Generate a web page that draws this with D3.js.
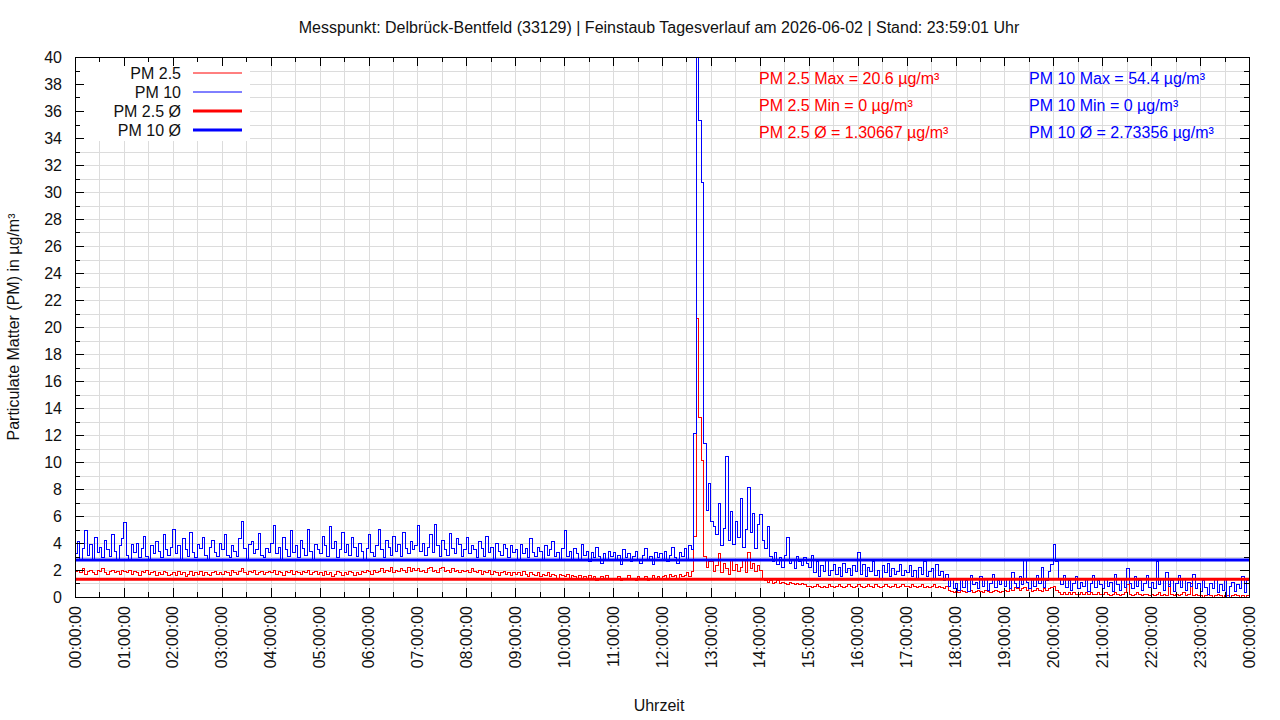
<!DOCTYPE html>
<html>
<head>
<meta charset="utf-8">
<script src="https://cdn.jsdelivr.net/npm/d3@7"></script>
<style>
  body { margin: 0; background: #fff; }
  text { font-family: "Liberation Sans", Arial, sans-serif; }
</style>
</head>
<body>
<div id="container"></div>
<script>
// one reading every 3 minutes, 20 readings per hour line
const stepMin = 3;
const pm10 = [
  3.2,4.1,2.7,3.6,4.9,3.1,3.9,2.8,4.4,3.3,3.7,2.9,4.2,3.5,3.0,4.6,3.4,2.8,3.8,4.3,
  5.5,3.1,2.8,3.9,3.3,4.0,2.9,3.6,4.5,3.0,2.7,3.8,3.2,4.1,3.4,2.9,4.6,3.5,3.1,3.7,
  5.0,3.2,3.8,2.8,4.3,3.5,3.0,4.8,3.3,2.9,3.9,3.6,4.4,3.1,2.8,3.7,4.2,3.3,3.0,4.0,
  3.5,4.6,3.1,2.9,3.8,3.4,3.0,4.3,5.6,3.6,2.8,3.9,4.1,3.2,3.5,4.7,3.1,2.9,3.6,3.3,
  4.0,5.3,3.2,3.7,2.8,4.4,3.5,3.0,4.9,3.3,3.8,2.9,4.2,3.6,3.1,5.0,3.4,2.8,3.9,3.5,
  3.2,4.5,3.8,3.0,5.2,3.6,4.1,2.9,3.5,4.8,3.3,3.9,3.1,4.4,3.7,3.0,4.0,3.4,2.8,3.6,
  4.6,3.3,3.0,3.8,5.0,3.5,2.9,4.2,3.7,3.1,4.5,3.4,3.9,3.0,4.8,3.6,3.2,4.1,3.5,3.8,
  5.3,3.4,4.0,3.1,3.7,4.6,3.3,5.4,3.8,3.0,4.2,3.5,3.1,4.7,3.6,3.2,4.3,3.9,3.0,3.5,
  4.4,3.2,3.8,3.5,2.9,4.1,3.6,3.0,4.5,3.3,3.7,2.8,4.0,3.4,3.1,3.9,3.6,2.9,3.8,3.3,
  3.5,2.8,3.9,3.2,3.6,2.9,4.3,3.3,3.0,3.7,3.4,2.7,3.8,3.1,3.5,4.1,3.0,3.3,2.8,3.6,
  4.9,3.0,3.4,2.8,3.6,3.2,2.7,3.9,3.1,3.4,2.6,3.3,2.9,3.7,3.0,2.5,3.2,2.8,3.4,3.0,
  3.3,2.7,3.1,2.4,3.5,2.9,3.2,2.6,3.0,3.4,2.8,2.5,3.1,3.6,2.7,3.0,2.4,3.3,2.9,3.2,
  2.8,3.4,2.6,3.1,3.7,2.9,2.5,3.3,3.0,3.6,2.7,3.8,3.5,12.1,54.4,35.3,30.7,11.4,6.4,8.4,
  5.6,5.2,4.6,6.9,3.8,5.1,10.4,4.2,6.3,3.9,5.6,4.4,7.3,3.7,5.0,8.1,4.8,6.2,3.6,5.4,
  6.1,4.2,3.6,5.2,3.0,2.6,3.3,2.4,2.9,2.2,3.1,4.4,2.5,2.8,2.1,3.0,2.6,2.3,2.9,2.5,
  2.2,3.1,1.8,2.6,1.5,2.3,1.9,2.7,1.6,2.0,2.4,1.7,2.2,1.5,2.5,1.8,2.1,1.6,2.3,1.9,
  3.3,1.7,2.4,1.5,2.2,1.9,2.6,1.6,2.0,1.4,2.3,1.8,2.5,1.5,2.1,1.7,1.9,2.4,1.6,2.0,
  1.8,2.3,1.5,2.0,1.4,2.2,1.7,2.6,1.5,1.9,2.1,1.3,2.4,1.6,1.9,1.2,1.7,0.8,1.3,0.6,
  1.0,0.5,1.4,0.7,1.2,0.4,1.6,0.9,1.1,0.6,1.5,0.8,1.3,0.5,1.0,1.7,0.7,1.2,0.9,1.4,
  0.8,1.3,0.6,1.8,1.0,0.7,1.5,0.9,2.8,1.1,0.6,1.4,0.8,1.6,1.0,2.2,0.7,1.2,1.9,2.4,
  3.9,2.6,1.4,0.9,1.6,0.7,1.2,0.5,1.0,1.5,0.6,1.1,0.8,1.3,0.4,1.0,1.6,0.7,1.2,0.9,
  0.6,1.4,0.8,1.1,0.4,1.7,0.9,0.5,1.3,0.7,2.1,1.0,0.6,1.5,0.8,1.2,0.5,1.0,1.6,0.7,
  1.1,0.6,2.6,0.9,1.4,0.5,1.8,0.8,1.2,0.4,1.0,1.6,0.7,1.3,0.5,1.1,0.8,1.7,0.6,1.0,
  0.4,1.2,0.7,0.2,1.0,0.6,1.4,0.3,0.9,0.5,1.3,0.0,0.8,1.1,0.4,0.9,0.6,1.5,0.3,1.2
];
const pm25 = [
  1.9,2.0,1.8,2.1,1.7,1.9,2.0,1.8,1.7,2.0,1.9,2.1,1.8,1.7,1.9,2.0,1.8,1.9,1.7,2.0,
  1.9,1.8,2.0,1.7,1.9,1.8,1.6,1.9,1.8,2.0,1.7,1.8,1.9,1.6,1.8,1.7,1.9,1.8,1.6,1.7,
  1.8,1.6,1.9,1.7,1.8,1.5,1.7,1.9,1.6,1.8,1.7,1.9,1.6,1.8,1.7,1.6,1.8,1.9,1.7,1.8,
  1.7,1.9,1.8,1.6,2.0,1.8,1.7,1.9,2.1,1.8,1.7,1.9,1.8,2.0,1.7,1.8,1.9,1.7,1.8,1.9,
  1.8,2.0,1.7,1.9,1.8,1.6,1.9,1.8,2.0,1.7,1.9,1.8,1.7,1.9,1.8,2.0,1.7,1.8,1.9,1.7,
  1.8,1.6,1.9,1.7,1.8,1.5,1.7,1.9,1.8,1.6,1.8,1.7,1.9,1.8,1.6,1.8,1.7,1.9,1.8,2.0,
  1.9,1.7,2.0,1.8,1.9,2.1,1.8,2.0,1.9,2.2,1.8,2.0,1.9,2.1,2.0,1.8,2.2,1.9,2.1,2.0,
  2.1,1.9,2.0,1.8,2.1,2.2,1.9,2.0,1.8,2.1,2.2,1.9,2.0,1.8,2.1,1.9,2.0,1.8,2.0,1.9,
  2.0,1.8,2.1,1.9,1.8,2.0,1.7,1.9,1.8,2.0,1.7,1.9,1.8,1.6,1.8,1.9,1.7,1.8,1.6,1.8,
  1.7,1.8,1.6,1.9,1.7,1.5,1.8,1.7,1.6,1.8,1.5,1.7,1.6,1.8,1.5,1.7,1.6,1.4,1.7,1.6,
  1.5,1.7,1.4,1.6,1.5,1.3,1.6,1.4,1.5,1.3,1.6,1.4,1.5,1.2,1.4,1.5,1.3,1.6,1.4,1.3,
  1.4,1.3,1.5,1.2,1.4,1.3,1.6,1.3,1.4,1.2,1.5,1.4,1.3,1.5,1.2,1.4,1.6,1.3,1.5,1.4,
  1.5,1.6,1.4,1.7,1.5,1.6,1.4,1.7,1.5,1.6,1.8,1.5,1.9,4.5,20.6,13.3,10.1,3.0,2.2,2.6,
  2.6,1.9,2.3,3.2,1.8,2.5,2.1,1.7,2.8,2.0,2.4,1.9,2.2,2.7,1.8,3.3,2.1,2.5,1.9,2.3,
  2.0,1.4,1.2,1.1,1.2,1.0,1.1,1.2,1.0,1.1,1.0,0.9,1.1,1.0,0.9,1.0,0.9,1.0,0.9,0.8,
  0.8,0.7,0.8,0.9,0.8,0.7,0.8,0.7,0.9,0.8,0.7,0.8,0.9,0.8,0.7,0.8,0.9,0.8,0.7,0.8,
  0.9,0.8,0.7,0.8,0.9,0.8,0.7,0.9,0.8,0.7,0.8,0.9,0.8,0.7,0.8,0.9,0.7,0.8,0.9,0.8,
  0.8,0.7,0.9,0.8,0.7,0.8,0.9,0.7,0.8,0.7,0.8,0.9,0.7,0.8,0.7,0.6,0.8,0.5,0.4,0.3,
  0.4,0.3,0.5,0.4,0.3,0.4,0.5,0.3,0.4,0.5,0.4,0.3,0.5,0.4,0.3,0.4,0.5,0.4,0.3,0.4,
  0.5,0.4,0.6,0.5,0.7,0.6,0.5,0.6,0.7,0.5,0.6,0.4,0.5,0.6,0.5,0.4,0.6,0.5,0.6,0.7,
  0.8,0.5,0.3,0.2,0.3,0.2,0.3,0.2,0.3,0.2,0.2,0.3,0.2,0.3,0.2,0.3,0.2,0.2,0.3,0.2,
  0.2,0.3,0.2,0.1,0.2,0.3,0.2,0.1,0.2,0.3,0.9,0.2,0.1,0.2,0.3,0.2,0.1,0.2,0.2,0.1,
  0.2,0.1,0.2,0.3,0.1,0.2,0.1,0.9,0.2,0.1,0.2,0.1,0.2,0.3,0.1,0.2,1.0,0.1,0.2,0.1,
  0.1,0.0,0.1,0.2,0.1,0.0,0.1,0.2,0.1,0.0,0.1,0.1,0.0,0.1,0.2,0.1,0.0,0.1,0.0,0.1
];
const hourLabels = ["00:00:00","01:00:00","02:00:00","03:00:00","04:00:00","05:00:00",
  "06:00:00","07:00:00","08:00:00","09:00:00","10:00:00","11:00:00","12:00:00",
  "13:00:00","14:00:00","15:00:00","16:00:00","17:00:00","18:00:00","19:00:00",
  "20:00:00","21:00:00","22:00:00","23:00:00","00:00:00"];
const pm25Stats = {max: "20.6", min: "0", avg: 1.30667};
const pm10Stats = {max: "54.4", min: "0", avg: 2.73356};
const title = "Messpunkt: Delbrück-Bentfeld (33129) | Feinstaub Tagesverlauf am 2026-06-02 | Stand: 23:59:01 Uhr";

const width = 1280;
const height = 720;
const marginTop = 57;
const marginRight = 31;
const marginBottom = 123;
const marginLeft = 75;
const red = "#ff0000";
const blue = "#0000ff";

const x = d3.scaleLinear([0, 1440], [marginLeft, width - marginRight]);
const y = d3.scaleLinear([0, 40], [height - marginBottom, marginTop]);

const svg = d3.create("svg")
  .attr("width", width)
  .attr("height", height)
  .style("display", "block");

svg.append("rect").attr("width", width).attr("height", height).attr("fill", "#fff");

// grid every half hour / every 1 µg
const grid = svg.append("g").attr("stroke", "#dcdcdc").attr("stroke-width", 1);
grid.selectAll(".gx").data(d3.range(30, 1440, 30)).join("line")
  .attr("x1", d => Math.round(x(d)) + 0.5).attr("x2", d => Math.round(x(d)) + 0.5)
  .attr("y1", y(0)).attr("y2", y(40));
grid.selectAll(".gy").data(d3.range(1, 40)).join("line")
  .attr("y1", d => Math.round(y(d)) + 0.5).attr("y2", d => Math.round(y(d)) + 0.5)
  .attr("x1", x(0)).attr("x2", x(1440));

// legend box hides grid behind it
svg.append("rect")
  .attr("x", x(0) + 1).attr("y", y(40) + 1)
  .attr("width", 174).attr("height", 83)
  .attr("fill", "#fff");

svg.append("clipPath").attr("id", "plot")
  .append("rect").attr("x", x(0)).attr("y", y(40))
  .attr("width", x(1440) - x(0)).attr("height", y(0) - y(40));

const toPoints = arr => arr.map((v, i) => ({t: i * stepMin, v}));
const line = d3.line().x(d => x(d.t)).y(d => y(d.v)).curve(d3.curveStepAfter);

const plot = svg.append("g").attr("clip-path", "url(#plot)");
[[pm25, red], [pm10, blue]].forEach(([arr, col]) => {
  plot.append("path")
    .attr("fill", "none")
    .attr("stroke", col)
    .attr("stroke-width", 1)
    .attr("shape-rendering", "crispEdges")
    .attr("d", line(toPoints(arr)) + `H${x(arr.length * stepMin)}`);
});
[[pm25Stats.avg, red], [pm10Stats.avg, blue]].forEach(([v, col]) => {
  plot.append("line")
    .attr("x1", x(0)).attr("x2", x(1440))
    .attr("y1", y(v)).attr("y2", y(v))
    .attr("stroke", col).attr("stroke-width", 3);
});

// frame and inward ticks on all four sides
const ax = svg.append("g").attr("stroke", "#000").attr("stroke-width", 1);
const xTicks = d3.range(0, 1441, 30);
ax.selectAll(".tb").data(xTicks).join("line")
  .attr("x1", d => Math.round(x(d)) + 0.5).attr("x2", d => Math.round(x(d)) + 0.5)
  .attr("y1", y(0)).attr("y2", d => y(0) - (d % 60 === 0 ? 9 : 5));
ax.selectAll(".tt").data(xTicks).join("line")
  .attr("x1", d => Math.round(x(d)) + 0.5).attr("x2", d => Math.round(x(d)) + 0.5)
  .attr("y1", y(40)).attr("y2", d => y(40) + (d % 60 === 0 ? 9 : 5));
const yTicks = d3.range(0, 41, 1);
ax.selectAll(".tl").data(yTicks).join("line")
  .attr("y1", d => Math.round(y(d)) + 0.5).attr("y2", d => Math.round(y(d)) + 0.5)
  .attr("x1", x(0)).attr("x2", d => x(0) + (d % 2 === 0 ? 9 : 5));
ax.selectAll(".tr").data(yTicks).join("line")
  .attr("y1", d => Math.round(y(d)) + 0.5).attr("y2", d => Math.round(y(d)) + 0.5)
  .attr("x1", x(1440)).attr("x2", d => x(1440) - (d % 2 === 0 ? 9 : 5));
svg.append("rect")
  .attr("x", x(0) + 0.5).attr("y", y(40) + 0.5)
  .attr("width", x(1440) - x(0)).attr("height", y(0) - y(40))
  .attr("fill", "none").attr("stroke", "#000");

// tick labels
svg.append("g").selectAll("text").data(d3.range(0, 41, 2)).join("text")
  .attr("x", x(0) - 13).attr("y", d => y(d)).attr("dy", "0.35em")
  .attr("text-anchor", "end").attr("font-size", 16).attr("fill", "#111")
  .text(d => d);
svg.append("g").selectAll("text").data(hourLabels).join("text")
  .attr("transform", (d, i) => `translate(${x(i * 60)},${y(0) + 9}) rotate(-90)`)
  .attr("dy", "0.35em")
  .attr("text-anchor", "end").attr("font-size", 16).attr("fill", "#111")
  .text(d => d);

// titles
svg.append("text")
  .attr("x", 659).attr("y", 33).attr("text-anchor", "middle")
  .attr("font-size", 16).attr("fill", "#111").text(title);
svg.append("text")
  .attr("transform", `translate(19,${(y(0) + y(40)) / 2}) rotate(-90)`)
  .attr("text-anchor", "middle").attr("font-size", 16).attr("fill", "#111")
  .text("Particulate Matter (PM) in µg/m³");
svg.append("text")
  .attr("x", 659).attr("y", 711).attr("text-anchor", "middle")
  .attr("font-size", 16).attr("fill", "#111").text("Uhrzeit");

// legend
const legend = [
  {label: "PM 2.5", color: red, w: 1},
  {label: "PM 10", color: blue, w: 1},
  {label: "PM 2.5 Ø", color: red, w: 3},
  {label: "PM 10 Ø", color: blue, w: 3}
];
const lg = svg.append("g");
legend.forEach((d, i) => {
  const ly = 73 + i * 19;
  lg.append("text").attr("x", 181).attr("y", ly).attr("dy", "0.35em")
    .attr("text-anchor", "end").attr("font-size", 16).attr("fill", "#111").text(d.label);
  lg.append("line").attr("x1", 193).attr("x2", 242).attr("y1", ly).attr("y2", ly)
    .attr("stroke", d.color).attr("stroke-width", d.w);
});

// statistics
const statRows = [
  [`PM 2.5 Max = ${pm25Stats.max} µg/m³`, `PM 10 Max = ${pm10Stats.max} µg/m³`],
  [`PM 2.5 Min = ${pm25Stats.min} µg/m³`, `PM 10 Min = ${pm10Stats.min} µg/m³`],
  [`PM 2.5 Ø = ${pm25Stats.avg} µg/m³`, `PM 10 Ø = ${pm10Stats.avg} µg/m³`]
];
statRows.forEach((r, i) => {
  const sy = 78 + i * 27;
  svg.append("text").attr("x", 759).attr("y", sy).attr("dy", "0.35em")
    .attr("font-size", 16).attr("fill", red).text(r[0]);
  svg.append("text").attr("x", 1029).attr("y", sy).attr("dy", "0.35em")
    .attr("font-size", 16).attr("fill", blue).text(r[1]);
});

document.getElementById("container").append(svg.node());
</script>
</body>
</html>
